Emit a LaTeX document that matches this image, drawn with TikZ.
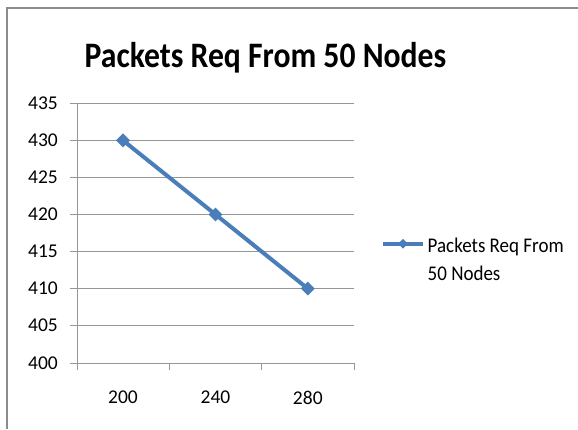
\documentclass[tikz,border=0pt]{standalone}
\usepackage{fontspec}
\setmainfont{Carlito}
\usetikzlibrary{shapes.geometric}
\definecolor{frameGrey}{RGB}{140,140,140}
\definecolor{gridGrey}{RGB}{150,150,150}
\definecolor{seriesBlue}{RGB}{74,126,187}
\tikzset{
  frame/.style={draw=frameGrey, line width=2pt},
  gridline/.style={draw=gridGrey, line width=1pt},
  axisline/.style={draw=gridGrey, line width=1pt},
  ticklabel/.style={inner sep=0pt, font=\fontsize{19.5}{23}\selectfont, text=black},
  series/.style={draw=seriesBlue, line width=4pt, line join=round},
  marker/.style={diamond, fill=seriesBlue, draw=none, inner sep=0pt,
                 minimum width=14pt, minimum height=14pt},
  legendmarker/.style={marker, minimum width=10pt, minimum height=10pt},
  legendtext/.style={inner sep=0pt, anchor=base west, font=\fontsize{19}{27}\selectfont},
}
\begin{document}
\begin{tikzpicture}[x=1pt, y=-1pt]
  \useasboundingbox (0,0) rectangle (578,429);
  \fill[white] (0,0) rectangle (578,429);

  % chart frame (top and left edges)
  \draw[frame] (6.5,429) -- (6.5,8) -- (578,8);

  % title, set slightly tall and narrow
  \node[inner sep=0pt, anchor=base, font=\fontsize{32}{38}\selectfont\bfseries]
    (title) at (265.5,67) {\scalebox{0.99}[1.12]{Packets Req From 50 Nodes}};

  % horizontal gridlines and y tick marks with labels (435 ... 405)
  \foreach \v [count=\i from 0] in {435,430,425,420,415,410,405} {
    \pgfmathsetmacro{\yy}{103.3+\i*37.07}
    \draw[gridline] (70,\yy) -- (354,\yy);
    \node[ticklabel, anchor=east] (ylab\v) at (58,\yy) {\v};
  }

  % axes
  \coordinate (origin) at (77,363);
  \coordinate (ytop) at (77,103.3);
  \coordinate (xend) at (354,363);
  \draw[axisline] (70,363) -- (xend);
  \draw[axisline] (ytop) -- (77,370);
  \node[ticklabel, anchor=east] (ylab400) at (58,363) {400};

  % x tick marks
  \foreach \xx in {169.7,261.3,354} {
    \draw[axisline] (\xx,363) -- (\xx,370);
  }

  % x labels
  \node[ticklabel] (xlab200) at (123,397.5) {200};
  \node[ticklabel] (xlab240) at (215.5,397.5) {240};
  \node[ticklabel] (xlab280) at (307.8,397.5) {280};

  % data points
  \coordinate (p200) at (123,140.4);
  \coordinate (p240) at (215.5,214.5);
  \coordinate (p280) at (307.8,288.6);
  \draw[series] (p200) -- (p240) -- (p280);
  \node[marker] (m200) at (p200) {};
  \node[marker] (m240) at (p240) {};
  \node[marker] (m280) at (p280) {};

  % legend
  \coordinate (legA) at (383,243.7);
  \coordinate (legB) at (423,243.7);
  \draw[seriesBlue, line width=4pt] (legA) -- (legB);
  \node[legendmarker] (legmark) at (403,243.7) {};
  \node[legendtext] (leg1) at (427.5,252.7) {\scalebox{1}[1.1]{Packets Req  From}};
  \node[legendtext] (leg2) at (427.5,280) {\scalebox{1}[1.1]{50 Nodes}};
\end{tikzpicture}
\end{document}
